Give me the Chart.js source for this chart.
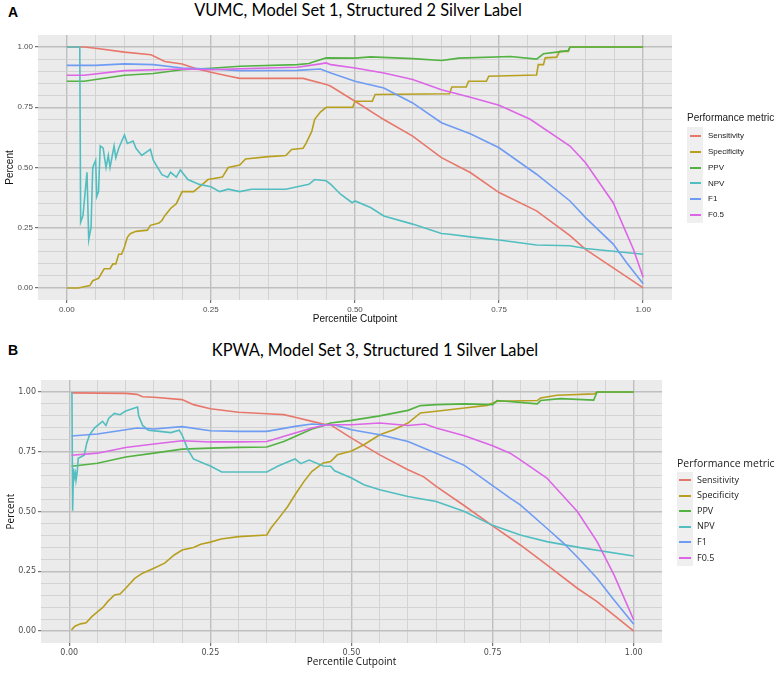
<!DOCTYPE html>
<html>
<head>
<meta charset="utf-8">
<script src="https://cdn.jsdelivr.net/npm/chart.js@4/dist/chart.umd.min.js"></script>
<style>
html,body{margin:0;padding:0;background:#fff;}
#wrap{position:relative;width:780px;height:674px;overflow:hidden;background:#fff;}
.panel{position:absolute;font-family:"Liberation Sans",Arial,sans-serif;font-weight:bold;font-size:14px;line-height:14px;color:#000;}
.ttl{position:absolute;white-space:nowrap;transform:translateX(-50%);color:#000;font-family:Lato,"Open Sans",sans-serif;font-size:16.4px;line-height:16px;}
canvas{position:absolute;left:0;}
.leg{position:absolute;color:#1a1a1a;}
.leg .lt{position:absolute;left:0;white-space:nowrap;}
.leg .kbg{position:absolute;background:#efefef;}
.leg .key{position:absolute;height:2px;}
.leg .lab{position:absolute;white-space:nowrap;}
</style>
</head>
<body>
<div id="wrap">
  <div class="panel" style="left:8px;top:5px;">A</div>
  <div class="ttl" style="left:358px;top:2px;">VUMC, Model Set 1, Structured 2 Silver Label</div>
  <canvas id="chartA" width="780" height="330" style="top:0px;width:780px;height:330px;"></canvas>
  <div id="legA" class="leg"></div>

  <div class="panel" style="left:8px;top:343px;">B</div>
  <div class="ttl" style="left:375px;top:342px;">KPWA, Model Set 3, Structured 1 Silver Label</div>
  <canvas id="chartB" width="780" height="339" style="top:335px;width:780px;height:339px;"></canvas>
  <div id="legB" class="leg"></div>
</div>
<script>
// ---------- data: metric names, tick labels ----------
const metricNames = ['Sensitivity','Specificity','PPV','NPV','F1','F0.5'];
const tickValues  = [0, 0.25, 0.5, 0.75, 1];
const xTickLabels = ['0.00','0.25','0.50','0.75','1.00'];
const yTickLabels = ['0.00','0.25','0.50','0.75','1.00'];

// ---------- Panel A: VUMC, [cutpoint, value] ----------
const aSensitivity = [[0,1],[0.03,1],[0.05,0.995],[0.1,0.979],[0.146,0.968],[0.17,0.94],[0.2,0.93],[0.225,0.91],[0.25,0.895],[0.28,0.88],[0.3,0.87],[0.41,0.87],[0.45,0.845],[0.458,0.837],[0.5,0.775],[0.55,0.699],[0.6,0.63],[0.65,0.541],[0.7,0.479],[0.75,0.396],[0.815,0.32],[0.873,0.217],[0.9,0.16],[0.95,0.08],[1,0]];
const aSpecificity = [[0,0],[0.02,0],[0.03,0.005],[0.04,0.01],[0.045,0.03],[0.05,0.035],[0.055,0.04],[0.06,0.06],[0.065,0.08],[0.075,0.08],[0.08,0.1],[0.085,0.1],[0.09,0.14],[0.095,0.14],[0.1,0.17],[0.105,0.21],[0.11,0.225],[0.12,0.235],[0.14,0.24],[0.145,0.26],[0.16,0.27],[0.165,0.28],[0.17,0.3],[0.18,0.33],[0.19,0.35],[0.2,0.4],[0.22,0.4],[0.23,0.42],[0.245,0.45],[0.27,0.46],[0.28,0.5],[0.3,0.51],[0.31,0.535],[0.35,0.545],[0.38,0.55],[0.39,0.575],[0.41,0.58],[0.415,0.6],[0.425,0.65],[0.43,0.7],[0.44,0.73],[0.45,0.75],[0.496,0.75],[0.5,0.775],[0.53,0.775],[0.535,0.803],[0.664,0.806],[0.668,0.834],[0.693,0.834],[0.697,0.858],[0.728,0.858],[0.732,0.879],[0.815,0.884],[0.818,0.927],[0.827,0.927],[0.83,0.955],[0.85,0.958],[0.855,0.982],[0.87,0.982],[0.873,1],[1,1]];
const aPPV = [[0,0.858],[0.03,0.858],[0.05,0.865],[0.1,0.883],[0.15,0.89],[0.2,0.906],[0.25,0.912],[0.3,0.92],[0.4,0.927],[0.42,0.932],[0.43,0.94],[0.45,0.955],[0.5,0.954],[0.527,0.959],[0.6,0.952],[0.65,0.944],[0.668,0.95],[0.68,0.954],[0.77,0.961],[0.815,0.95],[0.827,0.972],[0.85,0.979],[0.87,0.985],[0.873,1],[1,1]];
const aNPV = [[0,1],[0.0225,1],[0.024,0.273],[0.028,0.3],[0.035,0.48],[0.038,0.2],[0.042,0.25],[0.045,0.5],[0.05,0.53],[0.052,0.38],[0.055,0.4],[0.058,0.59],[0.063,0.58],[0.068,0.5],[0.072,0.55],[0.075,0.5],[0.082,0.59],[0.085,0.54],[0.09,0.58],[0.1,0.635],[0.105,0.6],[0.115,0.61],[0.12,0.58],[0.13,0.55],[0.145,0.575],[0.15,0.53],[0.16,0.49],[0.165,0.47],[0.175,0.46],[0.18,0.48],[0.19,0.46],[0.197,0.49],[0.21,0.45],[0.23,0.43],[0.25,0.42],[0.265,0.4],[0.28,0.41],[0.3,0.4],[0.32,0.41],[0.38,0.41],[0.41,0.425],[0.42,0.43],[0.43,0.45],[0.45,0.445],[0.458,0.43],[0.475,0.389],[0.495,0.354],[0.5,0.361],[0.527,0.334],[0.55,0.299],[0.6,0.265],[0.65,0.226],[0.664,0.223],[0.7,0.212],[0.75,0.199],[0.815,0.178],[0.873,0.175],[0.9,0.164],[1,0.14]];
const aF1 = [[0,0.924],[0.05,0.924],[0.1,0.93],[0.15,0.927],[0.2,0.913],[0.25,0.909],[0.3,0.902],[0.4,0.903],[0.44,0.909],[0.458,0.892],[0.5,0.858],[0.55,0.83],[0.6,0.768],[0.65,0.686],[0.7,0.64],[0.75,0.582],[0.815,0.472],[0.873,0.361],[0.9,0.292],[0.948,0.182],[0.971,0.106],[1,0.017]];
const aF05 = [[0,0.883],[0.03,0.883],[0.1,0.902],[0.2,0.909],[0.25,0.906],[0.3,0.91],[0.4,0.916],[0.44,0.93],[0.45,0.934],[0.458,0.927],[0.5,0.913],[0.55,0.892],[0.6,0.865],[0.65,0.823],[0.7,0.792],[0.75,0.758],[0.804,0.7],[0.873,0.589],[0.9,0.52],[0.948,0.354],[0.983,0.161],[1,0.044]];

// ---------- Panel B: KPWA, [cutpoint, value] ----------
const bSensitivity = [[0.004,0.996],[0.1,0.994],[0.12,0.99],[0.13,0.98],[0.15,0.978],[0.2,0.968],[0.22,0.947],[0.25,0.93],[0.3,0.915],[0.35,0.909],[0.38,0.905],[0.4,0.894],[0.43,0.877],[0.45,0.866],[0.463,0.863],[0.47,0.852],[0.5,0.807],[0.55,0.737],[0.6,0.675],[0.628,0.645],[0.65,0.605],[0.7,0.524],[0.75,0.44],[0.799,0.36],[0.846,0.277],[0.9,0.179],[0.935,0.123],[1,0]];
const bSpecificity = [[0.004,0.005],[0.01,0.02],[0.02,0.03],[0.03,0.035],[0.04,0.06],[0.05,0.08],[0.06,0.1],[0.068,0.123],[0.08,0.151],[0.09,0.155],[0.1,0.179],[0.116,0.22],[0.13,0.242],[0.15,0.263],[0.169,0.284],[0.186,0.318],[0.2,0.339],[0.22,0.349],[0.233,0.363],[0.25,0.372],[0.269,0.385],[0.3,0.395],[0.35,0.402],[0.357,0.43],[0.369,0.465],[0.387,0.521],[0.4,0.57],[0.416,0.626],[0.43,0.668],[0.45,0.703],[0.463,0.709],[0.475,0.737],[0.5,0.753],[0.522,0.779],[0.55,0.821],[0.575,0.842],[0.6,0.87],[0.622,0.912],[0.65,0.919],[0.7,0.933],[0.74,0.944],[0.758,0.961],[0.829,0.964],[0.835,0.975],[0.864,0.986],[0.93,0.992],[0.935,1],[1,1]];
const bPPV = [[0.004,0.689],[0.05,0.702],[0.1,0.728],[0.15,0.744],[0.2,0.761],[0.25,0.765],[0.3,0.768],[0.35,0.77],[0.38,0.793],[0.4,0.814],[0.43,0.845],[0.45,0.859],[0.463,0.87],[0.5,0.881],[0.55,0.9],[0.6,0.923],[0.622,0.943],[0.65,0.947],[0.7,0.95],[0.75,0.947],[0.758,0.964],[0.829,0.95],[0.835,0.964],[0.87,0.972],[0.929,0.966],[0.935,1],[1,1]];
const bNPV = [[0.0048,1],[0.006,0.503],[0.0077,0.68],[0.009,0.64],[0.011,0.66],[0.012,0.63],[0.014,0.66],[0.016,0.723],[0.0265,0.735],[0.031,0.786],[0.036,0.82],[0.045,0.85],[0.059,0.877],[0.065,0.86],[0.07,0.89],[0.08,0.91],[0.09,0.905],[0.1,0.92],[0.121,0.937],[0.123,0.9],[0.13,0.86],[0.14,0.84],[0.16,0.835],[0.18,0.83],[0.195,0.84],[0.2,0.82],[0.21,0.76],[0.22,0.72],[0.24,0.7],[0.25,0.69],[0.27,0.665],[0.35,0.665],[0.37,0.69],[0.39,0.71],[0.4,0.72],[0.41,0.7],[0.425,0.715],[0.45,0.69],[0.463,0.689],[0.47,0.67],[0.5,0.64],[0.522,0.612],[0.55,0.591],[0.6,0.563],[0.65,0.542],[0.7,0.5],[0.75,0.442],[0.799,0.402],[0.846,0.374],[0.905,0.349],[1,0.314]];
const bF1 = [[0.004,0.816],[0.05,0.824],[0.1,0.842],[0.12,0.849],[0.15,0.845],[0.2,0.855],[0.25,0.838],[0.3,0.835],[0.35,0.835],[0.4,0.856],[0.43,0.866],[0.45,0.863],[0.47,0.862],[0.5,0.842],[0.55,0.821],[0.6,0.793],[0.65,0.744],[0.7,0.693],[0.75,0.608],[0.781,0.556],[0.799,0.528],[0.846,0.43],[0.876,0.367],[0.905,0.297],[0.935,0.221],[0.965,0.13],[1,0.028]];
const bF05 = [[0.004,0.735],[0.05,0.744],[0.1,0.768],[0.15,0.782],[0.2,0.796],[0.25,0.791],[0.3,0.791],[0.35,0.793],[0.4,0.828],[0.43,0.849],[0.45,0.86],[0.463,0.863],[0.5,0.863],[0.55,0.87],[0.6,0.86],[0.63,0.866],[0.65,0.849],[0.7,0.817],[0.75,0.775],[0.781,0.744],[0.799,0.716],[0.846,0.64],[0.9,0.5],[0.935,0.374],[0.965,0.235],[1,0.046]];

const seriesA = [aSensitivity, aSpecificity, aPPV, aNPV, aF1, aF05];
const seriesB = [bSensitivity, bSpecificity, bPPV, bNPV, bF1, bF05];

// ---------- styles ----------
const colors = ['#E8776B','#B7A01F','#53B242','#52BEC0','#6F9CF3','#DC66E6'];
const gridVals = [];
for (let i = 0; i <= 22; i++) gridVals.push(Math.round((-0.05 + i * 0.05) * 100) / 100);

function isMajor(v){ return tickValues.some(t => Math.abs(t - v) < 1e-9); }
function isEdge(v){ return v < -0.01 || v > 1.01; }

const plotBg = {
  id: 'plotBg',
  beforeDraw(chart){
    const {ctx, chartArea:a} = chart;
    ctx.save();
    ctx.fillStyle = '#ebebeb';
    ctx.fillRect(a.left, a.top, a.right - a.left, a.bottom - a.top);
    ctx.restore();
  }
};

function axis(isX, cfg){
  const labels = isX ? xTickLabels : yTickLabels;
  return {
    type: 'linear',
    min: -0.05, max: 1.05,
    border: {display:false},
    afterFit(scale){ if (isX) scale.height = cfg.xAxisH; else scale.width = cfg.yAxisW; },
    afterBuildTicks(scale){ scale.ticks = gridVals.map(v => ({value: v})); },
    grid: {
      drawTicks: true,
      tickLength: 3,
      color: c => (c.tick && isEdge(c.tick.value)) ? 'rgba(0,0,0,0)' : (c.tick && isMajor(c.tick.value) ? '#bfbfbf' : '#d0d0d0'),
      lineWidth: c => (c.tick && isMajor(c.tick.value)) ? 1.4 : 0.9,
      tickColor: c => (c.tick && isMajor(c.tick.value)) ? '#555555' : 'rgba(0,0,0,0)',
      tickWidth: 1
    },
    ticks: {
      autoSkip: false, maxRotation: 0, minRotation: 0,
      padding: cfg.tickPad,
      color: '#4d4d4d',
      font: {family: cfg.tickFont, size: 8},
      callback: v => { const i = tickValues.findIndex(t => Math.abs(t - v) < 1e-9); return i >= 0 ? labels[i] : ''; }
    },
    title: {
      display: true,
      text: isX ? 'Percentile Cutpoint' : 'Percent',
      color: '#111',
      font: {family: cfg.titleFont, size: 10},
      padding: isX ? {top:0, bottom: cfg.xTitlePad} : {top: cfg.yTitlePad, bottom: 0}
    }
  };
}

function makeChart(id, series, cfg){
  const datasets = series.map((s, i) => ({
    label: metricNames[i],
    data: s.map(p => ({x: p[0], y: p[1]})),
    borderColor: colors[i],
    backgroundColor: colors[i],
    borderWidth: 1.6,
    pointRadius: 0,
    tension: 0,
    fill: false,
    order: 6 - i
  }));
  return new Chart(document.getElementById(id), {
    type: 'line',
    data: {datasets},
    plugins: [plotBg],
    options: {
      responsive: false,
      animation: false,
      layout: {padding: cfg.padding},
      plugins: {legend: {display:false}, tooltip: {enabled:false}, title:{display:false}},
      scales: { x: axis(true, cfg), y: axis(false, cfg) }
    }
  });
}

makeChart('chartA', seriesA, {
  padding: {left:0, top:35, right:108, bottom:0},
  yAxisW: 38, xAxisH: 30, tickPad: 2, xTitlePad: 5, yTitlePad: 4,
  tickFont: '"Liberation Sans", Arial, sans-serif', titleFont: '"Liberation Sans", Arial, sans-serif'
});
makeChart('chartB', seriesB, {
  padding: {left:0, top:45, right:118, bottom:0},
  yAxisW: 41, xAxisH: 31, tickPad: 2, xTitlePad: 6, yTitlePad: 5,
  tickFont: '"DejaVu Sans", sans-serif', titleFont: '"Open Sans", sans-serif'
});

// ---------- legends (HTML text) ----------
function buildLegend(id, o){
  const el = document.getElementById(id);
  el.style.left = o.left + 'px';
  el.style.top = o.top + 'px';
  el.style.fontFamily = o.font;
  let html = '<div class="lt" style="top:' + (o.titleY - o.titleSize * 0.6) + 'px;font-size:' + o.titleSize + 'px;line-height:' + (o.titleSize*1.2) + 'px;">Performance metric</div>';
  html += '<div class="kbg" style="left:' + o.kbgL + 'px;top:' + o.kbgT + 'px;width:' + o.kbgW + 'px;height:' + o.kbgH + 'px;"></div>';
  metricNames.forEach((n, i) => {
    const cy = o.item0 + i * o.step;
    html += '<div class="key" style="left:' + o.keyL + 'px;width:' + o.keyW + 'px;top:' + (cy - 1) + 'px;background:' + colors[i] + ';"></div>';
    html += '<div class="lab" style="left:' + o.labL + 'px;top:' + (cy - o.labSize * 0.6) + 'px;font-size:' + o.labSize + 'px;line-height:' + (o.labSize*1.2) + 'px;">' + n + '</div>';
  });
  el.innerHTML = html;
}
buildLegend('legA', {left:687, top:0, font:'"Liberation Sans", Arial, sans-serif', titleY:118, titleSize:10,
  kbgL:0, kbgT:127, kbgW:16, kbgH:96, keyL:3, keyW:11, item0:136, step:15.8, labL:21, labSize:8});
buildLegend('legB', {left:677, top:335, font:'"Open Sans", sans-serif', titleY:128, titleSize:10.5,
  kbgL:0, kbgT:137, kbgW:16, kbgH:94, keyL:2, keyW:12, item0:145, step:15.6, labL:20, labSize:9});
</script>
</body>
</html>
